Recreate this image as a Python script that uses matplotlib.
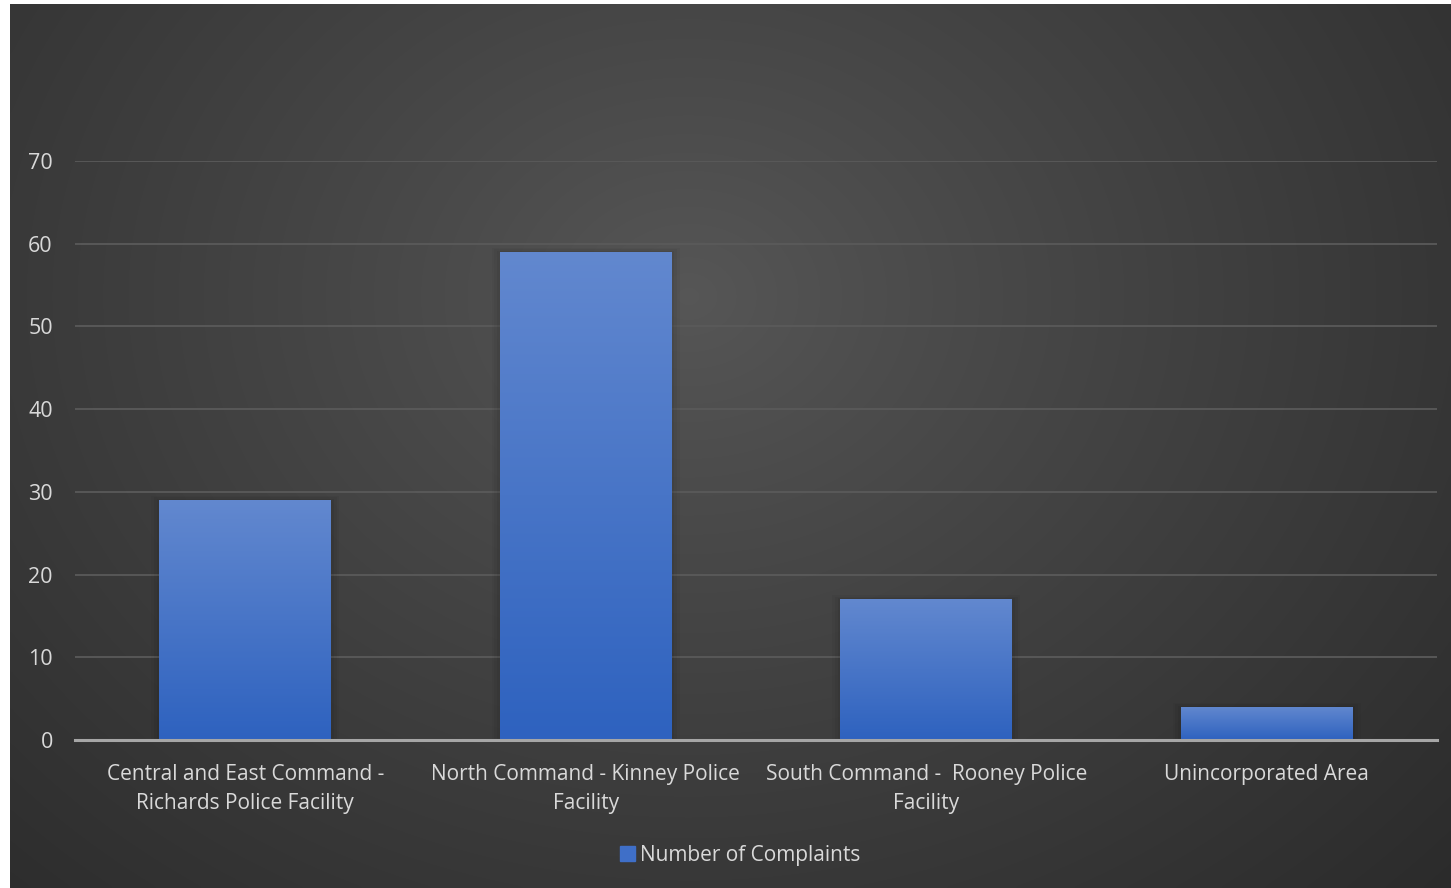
import numpy as np
import matplotlib
matplotlib.use("Agg")
from matplotlib import pyplot as plt
from matplotlib.patches import Rectangle

# data
categories = ["Central and East Command -\nRichards Police Facility",
              "North Command - Kinney Police\nFacility",
              "South Command -  Rooney Police\nFacility",
              "Unincorporated Area"]
complaints = [29, 59, 17, 4]
yticks = [0, 10, 20, 30, 40, 50, 60, 70]
seriesName = "Number of Complaints"

W, H = 1451, 888
txtColor = "#d9d9d9"
plt.rcParams['font.family'] = ['Open Sans', 'DejaVu Sans']

fig = plt.figure(figsize=(W/100., H/100.), dpi=100)
fig.patch.set_facecolor("white")

# radial gradient background (dark area starts at x=10, y=4)
bgAx = fig.add_axes([10./W, 0, (W-10.)/W, (H-4.)/H])
bgAx.set_axis_off()
ny, nx = 300, 500
yy, xx = np.mgrid[0:ny, 0:nx]
cx, cy = 0.47*nx, 0.33*ny
r = np.sqrt(((xx-cx)/nx)**2 + ((yy-cy)/ny*0.75)**2)
r = np.clip(r/0.75, 0, 1)
lum = 0.34 - (0.34-0.165)*r**0.9
bg = np.dstack([lum, lum, lum])
bgAx.imshow(bg, aspect='auto', extent=[0, 1, 0, 1], origin='upper', interpolation='bicubic')
bgAx.set_xlim(0, 1)
bgAx.set_ylim(0, 1)

# plot area
x0, x1 = 75, 1437
yTop, yBot = 161, 740
ax = fig.add_axes([x0/float(W), 1-yBot/float(H), (x1-x0)/float(W), (yBot-yTop)/float(H)])
ax.set_facecolor("none")
ax.patch.set_alpha(0)

xpos = np.arange(len(categories))
bars = ax.bar(xpos, complaints, width=0.505, color="#4a78cc", linewidth=0, zorder=3)

# vertical gradient on each bar
grad = np.linspace(0, 1, 256).reshape(-1, 1)
top = np.array([0x62, 0x88, 0xcf])/255.
bot = np.array([0x2e, 0x62, 0xbf])/255.
gimg = top*(1-grad[..., None]) + bot*grad[..., None]
gimg = gimg.reshape(256, 1, 3)
for b in bars:
    bx, by = b.get_x(), b.get_y()
    bw, bh = b.get_width(), b.get_height()
    # soft shadow
    for k, a in zip([0.024, 0.016, 0.008], [0.03, 0.04, 0.05]):
        ax.add_patch(Rectangle((bx-k, by), bw+2*k, bh+k*20, color="black", alpha=a, zorder=2, lw=0))
    im = ax.imshow(gimg, extent=[bx, bx+bw, by, by+bh], aspect='auto', zorder=4, origin='upper')
    im.set_clip_path(b)

ax.set_xlim(-0.5, len(categories)-0.5)
ax.set_ylim(0, 70)
ax.set_yticks(yticks)
ax.set_xticks(xpos)
ax.set_xticklabels(categories, fontsize=15, color=txtColor, linespacing=1.55)
ax.tick_params(axis='y', labelsize=15.5, labelcolor=txtColor, length=0, pad=16)
ax.tick_params(axis='x', length=0, pad=17)
ax.grid(axis='y', color="#5a5a5a", linewidth=1.3, zorder=0)
ax.set_axisbelow(True)
for s in ['top', 'right', 'left']:
    ax.spines[s].set_visible(False)
ax.spines['bottom'].set_color("#a6a6a6")
ax.spines['bottom'].set_linewidth(2.2)
ax.spines['bottom'].set_zorder(5)

# legend (sits a little left of the plot centre, like the original)
ax.legend([Rectangle((0, 0), 1, 1, color="#3f6fc8")], [seriesName],
          loc='center', bbox_to_anchor=((740.5-x0)/float(x1-x0), -(855-740)/float(yBot-yTop)),
          frameon=False, fontsize=15, labelcolor=txtColor,
          handlelength=0.7, handleheight=0.7, handletextpad=0.25)

plt.savefig("out.png", dpi=100, facecolor=fig.get_facecolor())
